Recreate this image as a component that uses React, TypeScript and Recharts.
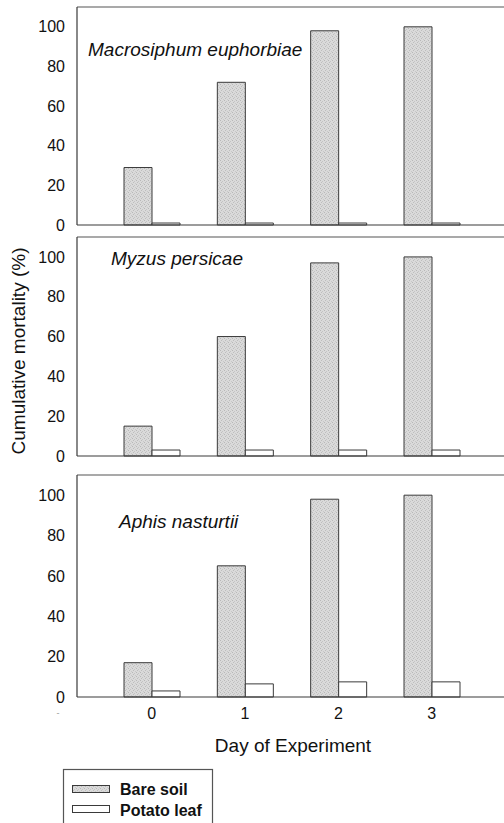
import React from "react";
import { BarChart, Bar, XAxis, YAxis, ReferenceLine } from "recharts";

const days = [0, 1, 2, 3];
const dayTicks = [0, 1, 2, 3];
const yTicks = [0, 20, 40, 60, 80, 100];
const seriesNames = ["Bare soil", "Potato leaf"];
const speciesNames = ["Macrosiphum euphorbiae", "Myzus persicae", "Aphis nasturtii"];

const macroBare = [29, 72, 98, 100];
const macroLeaf = [1, 1, 1, 1];
const myzusBare = [15, 60, 97, 100];
const myzusLeaf = [3, 3, 3, 3];
const aphisBare = [17, 65, 98, 100];
const aphisLeaf = [3, 6.5, 7.5, 7.5];

const build = (bare: number[], leaf: number[]) =>
  days.map((d, i) => ({ day: d, bare: bare[i], leaf: leaf[i] }));

const FONT = "'Liberation Sans', Arial, sans-serif";
const STROKE = "#3a3a3a";
const CHART_W = 545;

const Pattern = ({ id }: { id: string }) => (
  <defs>
    <pattern id={id} width="4" height="4" patternUnits="userSpaceOnUse">
      <rect width="4" height="4" fill="#dadada" />
      <rect x="0" y="0" width="1" height="1" fill="#b8b8b8" />
      <rect x="2" y="1" width="1" height="1" fill="#c4c4c4" />
      <rect x="1" y="2" width="1" height="1" fill="#bdbdbd" />
      <rect x="3" y="3" width="1" height="1" fill="#c8c8c8" />
    </pattern>
  </defs>
);

const Panel = ({
  data,
  top,
  plotHeight,
  showTicks,
  pid,
}: {
  data: any[];
  top: number;
  plotHeight: number;
  showTicks: boolean;
  pid: string;
}) => {
  const xh = showTicks ? 30 : 10;
  const height = 7 + plotHeight + xh;
  return (
    <div style={{ position: "absolute", left: 0, top, width: CHART_W, height }}>
      <BarChart
        width={CHART_W}
        height={height}
        data={data}
        margin={{ top: 7, right: 20, left: 0, bottom: 0 }}
        barGap={0}
      >
        <Pattern id={pid} />
        <XAxis
          dataKey="day"
          type="number"
          domain={[-0.8, 4.0]}
          ticks={dayTicks}
          interval={0}
          allowDataOverflow
          height={xh}
          tick={showTicks ? { fill: "#111", fontSize: 16, fontFamily: FONT } : false}
          tickLine={false}
          tickSize={0}
          tickMargin={11}
          axisLine={{ stroke: STROKE, strokeWidth: 1.2 }}
        />
        <YAxis
          type="number"
          domain={[0, 110]}
          ticks={yTicks}
          interval={0}
          width={77}
          tick={{ fill: "#111", fontSize: 16, fontFamily: FONT }}
          tickLine={false}
          tickSize={0}
          tickMargin={12}
          axisLine={{ stroke: STROKE, strokeWidth: 1.2 }}
        />
        <ReferenceLine y={110} stroke="#555" strokeWidth={1.2} />
        <Bar
          dataKey="bare"
          name={seriesNames[0]}
          barSize={28}
          fill={`url(#${pid})`}
          stroke={STROKE}
          strokeWidth={1}
          isAnimationActive={false}
        />
        <Bar
          dataKey="leaf"
          name={seriesNames[1]}
          barSize={28}
          fill="#ffffff"
          stroke={STROKE}
          strokeWidth={1}
          isAnimationActive={false}
        />
      </BarChart>
    </div>
  );
};

export default function App() {
  return (
    <div
      style={{
        position: "absolute",
        left: 0,
        top: 0,
        width: 504,
        height: 823,
        overflow: "hidden",
        background: "#fff",
        fontFamily: FONT,
      }}
    >
      <Panel data={build(macroBare, macroLeaf)} top={0} plotHeight={218} showTicks={false} pid="p1" />
      <Panel data={build(myzusBare, myzusLeaf)} top={230} plotHeight={219} showTicks={false} pid="p2" />
      <Panel data={build(aphisBare, aphisLeaf)} top={468} plotHeight={222} showTicks={true} pid="p3" />
      <svg
        width={504}
        height={823}
        style={{ position: "absolute", left: 0, top: 0, pointerEvents: "none" }}
      >
        <Pattern id="legpat" />
        <text x={88} y={56} fontSize={19} fontStyle="italic" fontFamily={FONT} fill="#111">
          {speciesNames[0]}
        </text>
        <text x={111} y={265} fontSize={19} fontStyle="italic" fontFamily={FONT} fill="#111">
          {speciesNames[1]}
        </text>
        <text x={119} y={528} fontSize={19} fontStyle="italic" fontFamily={FONT} fill="#111">
          {speciesNames[2]}
        </text>
        <text
          x={25}
          y={351}
          transform="rotate(-90 25 351)"
          textAnchor="middle"
          fontSize={19}
          fontFamily={FONT}
          fill="#111"
        >
          Cumulative mortality (%)
        </text>
        <text x={293} y={752} textAnchor="middle" fontSize={19} fontFamily={FONT} fill="#111">
          Day of Experiment
        </text>
        <text x={58} y={716} textAnchor="middle" fontSize={9} fontFamily={FONT} fill="#999">
          -
        </text>
        <rect x={63.5} y={769.5} width={149} height={70} fill="#fff" stroke="#555" strokeWidth={1.2} />
        <rect x={72.5} y={785.5} width={37} height={7} fill="url(#legpat)" stroke={STROKE} strokeWidth={1} />
        <rect x={72.5} y={805.5} width={37} height={7} fill="#fff" stroke={STROKE} strokeWidth={1} />
        <text x={120} y={795} fontSize={16} fontWeight="bold" fontFamily={FONT} fill="#111">
          {seriesNames[0]}
        </text>
        <text x={120} y={816} fontSize={16} fontWeight="bold" fontFamily={FONT} fill="#111">
          {seriesNames[1]}
        </text>
      </svg>
    </div>
  );
}
